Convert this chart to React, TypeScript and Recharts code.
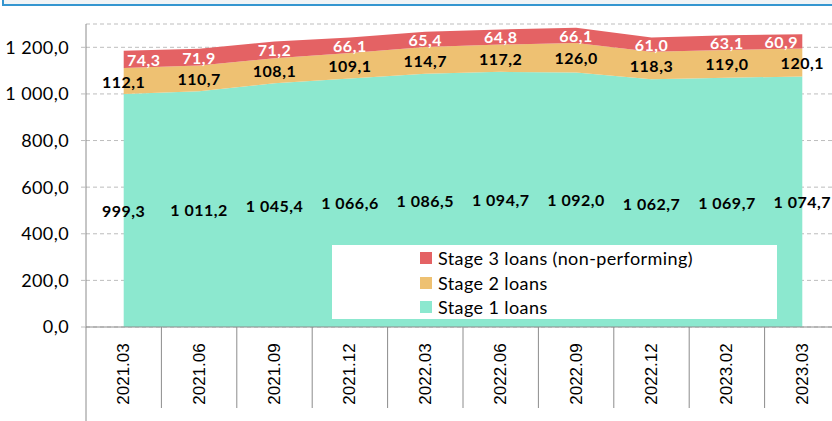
import {
  ComposedChart,
  Area,
  Line,
  XAxis,
  YAxis,
  CartesianGrid,
  Legend,
  LabelList,
} from 'recharts';

const categories = ['2021.03', '2021.06', '2021.09', '2021.12', '2022.03', '2022.06', '2022.09', '2022.12', '2023.02', '2023.03'];
const stage1 = [999.3, 1011.2, 1045.4, 1066.6, 1086.5, 1094.7, 1092.0, 1062.7, 1069.7, 1074.7];
const stage2 = [112.1, 110.7, 108.1, 109.1, 114.7, 117.2, 126.0, 118.3, 119.0, 120.1];
const stage3 = [74.3, 71.9, 71.2, 66.1, 65.4, 64.8, 66.1, 61.0, 63.1, 60.9];
const yTicks = [0, 200, 400, 600, 800, 1000, 1200];

const CHART_W = 850;
const CHART_H = 421;
const Y_W = 86;
const RIGHT = 10;
const BAND = (CHART_W - Y_W - RIGHT) / categories.length;

const FONT = 'Lato, "Open Sans", sans-serif';

const fmt = (v: number) => {
  const [i, d] = v.toFixed(1).split('.');
  return i.replace(/\B(?=(\d{3})+(?!\d))/g, ' ') + ',' + d;
};

// midpoints of each band, used to place the value labels
const data = categories.map((cat, i) => ({
  cat,
  s1: stage1[i],
  s2: stage2[i],
  s3: stage3[i],
  m1: stage1[i] / 2,
  m2: stage1[i] + stage2[i] / 2,
  m3: stage1[i] + stage2[i] + stage3[i] / 2,
}));

const makeLabel =
  (vals: number[], color: string, shifts: Record<number, number> = {}) =>
  (props: any) => {
    const x = props.x ?? props.viewBox?.x;
    const y = props.y ?? props.viewBox?.y;
    const idx = props.index;
    if (x == null || y == null || idx == null) return null;
    return (
      <text
        x={x + (shifts[idx] || 0)}
        y={y}
        textAnchor="middle"
        dominantBaseline="central"
        fill={color}
        fontFamily={FONT}
        fontWeight={700}
        fontSize={16}
        letterSpacing={0.5}
      >
        {fmt(vals[idx])}
      </text>
    );
  };

const XTick = (props: any) => {
  const { x, y, payload, index } = props;
  const left = x - BAND / 2;
  return (
    <g>
      <line x1={left} x2={left} y1={y} y2={index === 0 ? 421 : 408} stroke="#8c8c8c" />
      <text
        x={x}
        y={y + 47}
        transform={`rotate(-90, ${x}, ${y + 47})`}
        textAnchor="middle"
        dominantBaseline="central"
        fontFamily='"Liberation Sans", Arial, sans-serif'
        fontSize={17}
        fill="#000"
      >
        {payload.value}
      </text>
    </g>
  );
};

const legendItems = [
  { name: 'Stage 3 loans (non-performing)', color: '#E46264' },
  { name: 'Stage 2 loans', color: '#EEC172' },
  { name: 'Stage 1 loans', color: '#8CE8CF' },
];

const LegendBox = () => (
  <div
    style={{
      background: '#fff',
      width: 445,
      height: 74,
      boxSizing: 'border-box',
      paddingLeft: 88,
      paddingTop: 1,
      fontFamily: FONT,
      fontSize: 18,
      letterSpacing: 0.4,
      color: '#000',
    }}
  >
    {legendItems.map((it) => (
      <div key={it.name} style={{ display: 'flex', alignItems: 'center', height: 24.5 }}>
        <span style={{ width: 12, height: 12, background: it.color, marginRight: 6 }} />
        {it.name}
      </div>
    ))}
  </div>
);

export default function App() {
  return (
    <div
      style={{
        position: 'absolute',
        left: 0,
        top: 0,
        width: 832,
        height: 421,
        overflow: 'hidden',
        background: '#fff',
      }}
    >
      <div
        style={{
          position: 'absolute',
          left: 2,
          top: -20,
          width: 860,
          height: 26,
          boxSizing: 'border-box',
          border: '2px solid #3596d0',
          background: '#f1f4f6',
        }}
      />
      <ComposedChart
        width={CHART_W}
        height={CHART_H}
        data={data}
        margin={{ top: 24, right: RIGHT, bottom: 0, left: 0 }}
      >
        <CartesianGrid horizontal vertical={false} stroke="#bdbdbd" strokeDasharray="4 3" />
        <XAxis
          dataKey="cat"
          scale="band"
          height={94}
          tickSize={0}
          tickMargin={0}
          tickLine={false}
          axisLine={{ stroke: '#8c8c8c' }}
          tick={<XTick />}
          interval={0}
        />
        <YAxis
          width={Y_W}
          domain={[0, 1300]}
          ticks={yTicks}
          tickFormatter={fmt}
          tickSize={5}
          tickMargin={12}
          axisLine={{ stroke: '#8c8c8c' }}
          tickLine={{ stroke: '#bdbdbd' }}
          tick={{ fontFamily: FONT, fontSize: 18, fill: '#000', letterSpacing: 0.4 }}
          interval={0}
        />
        <Area type="linear" dataKey="s1" stackId="a" name="Stage 1 loans" fill="#8CE8CF" stroke="none" fillOpacity={1} isAnimationActive={false} />
        <Area type="linear" dataKey="s2" stackId="a" name="Stage 2 loans" fill="#EEC172" stroke="none" fillOpacity={1} isAnimationActive={false} />
        <Area type="linear" dataKey="s3" stackId="a" name="Stage 3 loans (non-performing)" fill="#E46264" stroke="none" fillOpacity={1} isAnimationActive={false} />
        <Line dataKey="m1" stroke="none" dot={false} activeDot={false} legendType="none" isAnimationActive={false}>
          <LabelList dataKey="m1" content={makeLabel(stage1, '#000')} />
        </Line>
        <Line dataKey="m2" stroke="none" dot={false} activeDot={false} legendType="none" isAnimationActive={false}>
          <LabelList dataKey="m2" content={makeLabel(stage2, '#000')} />
        </Line>
        <Line dataKey="m3" stroke="none" dot={false} activeDot={false} legendType="none" isAnimationActive={false}>
          <LabelList dataKey="m3" content={makeLabel(stage3, '#fff', { 0: 20, 9: -21 })} />
        </Line>
        <Legend
          layout="vertical"
          align="center"
          verticalAlign="middle"
          content={<LegendBox />}
          wrapperStyle={{ left: 332, top: 245, width: 445, height: 74 }}
        />
      </ComposedChart>
    </div>
  );
}
